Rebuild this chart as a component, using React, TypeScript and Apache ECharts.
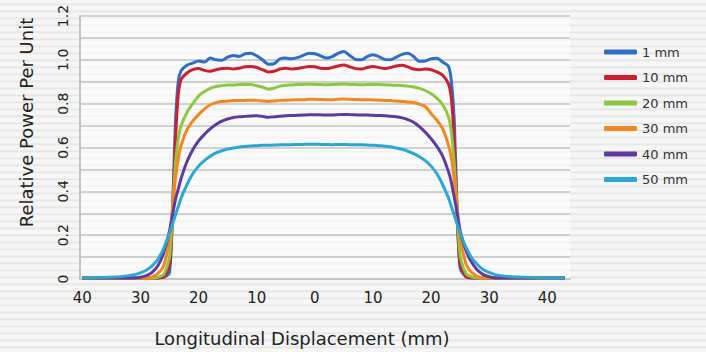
import React, { useEffect, useRef } from "react";
import * as echarts from "echarts";

const X_MM = [
  -40, -36, -33, -31, -30, -29, -28, -27, -26, -25,
  -24.5, -24, -23.5, -23, -22, -21, -20, -19, -18, -17,
  -16, -15, -14, -13, -12, -11, -10, -9, -8, -7,
  -6, -5, -4, -3, -2, -1, 0, 1, 2, 3,
  4, 5, 6, 7, 8, 9, 10, 11, 12, 13,
  14, 15, 16, 17, 18, 19, 20, 21, 22, 23,
  23.5, 24, 24.5, 25, 26, 27, 28, 29, 30, 31,
  33, 36, 40, 43,
];

const P1 = [
  0.005, 0.005, 0.005, 0.005, 0.005, 0.005, 0.005, 0.005, 0.008, 0.03,
  0.3, 0.7, 0.9, 0.95, 0.975, 0.985, 0.995, 0.99, 1.008, 1.0,
  0.998, 1.012, 1.02, 1.015, 1.028, 1.03, 1.018, 1.0, 0.98, 0.982,
  1.005, 1.008, 1.005, 1.01, 1.02, 1.03, 1.028, 1.018, 1.008, 1.015,
  1.03, 1.038, 1.02, 1.002, 1.0, 1.015, 1.023, 1.015, 1.002, 1.0,
  1.012, 1.025, 1.03, 1.015, 0.993, 0.995, 1.005, 1.007, 0.99, 0.97,
  0.9, 0.72, 0.3, 0.05, 0.01, 0.005, 0.005, 0.005, 0.005, 0.005,
  0.005, 0.005, 0.005, 0.005,
];

const P10 = [
  0.005, 0.005, 0.005, 0.005, 0.005, 0.005, 0.005, 0.005, 0.01, 0.06,
  0.28, 0.62, 0.84, 0.91, 0.94, 0.955, 0.96, 0.952, 0.948, 0.955,
  0.96, 0.962, 0.958, 0.962, 0.968, 0.97, 0.965, 0.955, 0.945, 0.948,
  0.958, 0.962, 0.958, 0.96, 0.965, 0.97, 0.968, 0.962, 0.96, 0.965,
  0.972, 0.976, 0.968, 0.96, 0.958, 0.965, 0.97, 0.965, 0.96, 0.965,
  0.972, 0.975, 0.968, 0.958, 0.955, 0.958, 0.955, 0.945, 0.93, 0.89,
  0.82, 0.62, 0.28, 0.07, 0.012, 0.005, 0.005, 0.005, 0.005, 0.005,
  0.005, 0.005, 0.005, 0.005,
];

const P20 = [
  0.005, 0.005, 0.005, 0.005, 0.005, 0.005, 0.005, 0.008, 0.02, 0.1,
  0.3, 0.52, 0.64, 0.7, 0.76, 0.8, 0.835, 0.855, 0.87, 0.878,
  0.882, 0.885, 0.885, 0.887, 0.888, 0.888, 0.882, 0.875, 0.866, 0.87,
  0.88, 0.884, 0.885, 0.887, 0.888, 0.889, 0.888, 0.887, 0.886, 0.887,
  0.889, 0.89, 0.888, 0.887, 0.886, 0.887, 0.888, 0.887, 0.886, 0.885,
  0.884, 0.883, 0.88, 0.876, 0.87, 0.86, 0.845, 0.825, 0.795, 0.74,
  0.67, 0.52, 0.3, 0.11, 0.025, 0.01, 0.005, 0.005, 0.005, 0.005,
  0.005, 0.005, 0.005, 0.005,
];

const P30 = [
  0.005, 0.005, 0.005, 0.005, 0.005, 0.005, 0.01, 0.025, 0.06, 0.18,
  0.32, 0.45, 0.55, 0.61, 0.68, 0.72, 0.75, 0.775, 0.795, 0.805,
  0.81, 0.812, 0.814, 0.815, 0.815, 0.816, 0.815, 0.812, 0.81, 0.812,
  0.815, 0.816, 0.817, 0.818, 0.818, 0.82, 0.82, 0.819, 0.818, 0.818,
  0.82, 0.821, 0.82, 0.819, 0.818, 0.818, 0.817, 0.816, 0.815, 0.814,
  0.812, 0.81, 0.808, 0.805, 0.798, 0.787, 0.755, 0.725, 0.685, 0.61,
  0.55, 0.45, 0.32, 0.19, 0.07, 0.03, 0.012, 0.005, 0.005, 0.005,
  0.005, 0.005, 0.005, 0.005,
];

const P40 = [
  0.005, 0.005, 0.005, 0.005, 0.008, 0.015, 0.03, 0.06, 0.12, 0.22,
  0.29, 0.36, 0.41, 0.46, 0.535, 0.59, 0.63, 0.66, 0.685, 0.705,
  0.72, 0.73, 0.737, 0.74, 0.742, 0.744, 0.745, 0.742, 0.738, 0.74,
  0.743, 0.745, 0.746, 0.747, 0.748, 0.75, 0.75, 0.749, 0.748, 0.748,
  0.75, 0.751, 0.75, 0.749, 0.748, 0.748, 0.747, 0.746, 0.745, 0.743,
  0.74, 0.735, 0.727, 0.715, 0.695, 0.67, 0.64, 0.605, 0.56, 0.49,
  0.44, 0.37, 0.3, 0.22, 0.13, 0.075, 0.04, 0.02, 0.01, 0.005,
  0.005, 0.005, 0.005, 0.005,
];

const P50 = [
  0.005, 0.008, 0.012, 0.02, 0.028, 0.04, 0.06, 0.09, 0.14, 0.21,
  0.25, 0.29, 0.33, 0.37, 0.43, 0.48, 0.515, 0.54, 0.56, 0.575,
  0.585, 0.593, 0.598, 0.602, 0.605, 0.607, 0.608, 0.61, 0.61, 0.611,
  0.612, 0.613, 0.613, 0.614, 0.614, 0.615, 0.615, 0.614, 0.614, 0.613,
  0.614, 0.614, 0.613, 0.612, 0.612, 0.611, 0.61, 0.608, 0.606, 0.603,
  0.598, 0.592, 0.583, 0.572, 0.558, 0.54, 0.515, 0.48, 0.43, 0.37,
  0.33, 0.29, 0.25, 0.21, 0.145, 0.095, 0.065, 0.042, 0.03, 0.02,
  0.012, 0.008, 0.005, 0.005,
];

const SERIES_NAMES = ["1 mm", "10 mm", "20 mm", "30 mm", "40 mm", "50 mm"];
const SERIES_VALUES = [P1, P10, P20, P30, P40, P50];
const COLORS = ["#2e6ec8", "#cc1f2f", "#8dc63f", "#f7861e", "#5f3a9e", "#2ba7d3"];
const X_TICKS = [-40, -30, -20, -10, 0, 10, 20, 30, 40];

const FONT = "DejaVu Sans";

export default function App() {
  const ref = useRef<HTMLDivElement>(null);

  useEffect(() => {
    if (!ref.current) return;
    const chart = echarts.init(ref.current, null, { renderer: "svg" });
    const option: any = {
      animation: false,
      backgroundColor: "transparent",
      grid: {
        left: 80,
        right: 136,
        top: 16,
        bottom: 72,
        show: true,
        backgroundColor: "rgba(255,255,255,0.55)",
        borderWidth: 0,
      },
      legend: {
        orient: "vertical",
        left: 599,
        top: 39,
        itemWidth: 33,
        itemHeight: 5,
        itemGap: 9.5,
        icon: "roundRect",
        textStyle: { fontFamily: FONT, fontSize: 13, color: "#333", lineHeight: 16 },
        data: SERIES_NAMES,
      },
      xAxis: {
        type: "value",
        min: -40.4,
        max: 43.9,
        axisLine: { show: true, onZero: false, lineStyle: { color: "#c4c4c4", width: 2 } },
        axisTick: { show: false },
        splitLine: { show: false },
        axisLabel: {
          customValues: X_TICKS,
          formatter: (v: number) => String(Math.abs(v)),
          fontFamily: FONT,
          fontSize: 15,
          color: "#222",
          margin: 11,
        },
        name: "Longitudinal Displacement (mm)",
        nameLocation: "middle",
        nameGap: 50,
        nameTextStyle: { fontFamily: FONT, fontSize: 18, color: "#222", padding: [0, 46, 0, 0] },
      },
      yAxis: {
        type: "value",
        min: 0,
        max: 1.2,
        interval: 0.1,
        axisLine: { show: true, onZero: false, lineStyle: { color: "#c4c4c4", width: 2 } },
        axisTick: { show: false },
        splitLine: { show: true, lineStyle: { color: "#c2c2c2", width: 1.5 } },
        axisLabel: {
          rotate: 90,
          margin: 10,
          fontFamily: FONT,
          fontSize: 14,
          color: "#222",
          formatter: (v: number) => {
            const k = Math.round(v * 10);
            if (k % 2) return "";
            return k === 0 ? "0" : (k / 10).toFixed(1);
          },
        },
        name: "Relative Power Per Unit",
        nameLocation: "middle",
        nameRotate: 90,
        nameGap: 45,
        nameTextStyle: { fontFamily: FONT, fontSize: 18, color: "#222", padding: [0, 0, 0, 50] },
      },
      series: SERIES_NAMES.map((name, i) => ({
        name,
        type: "line",
        showSymbol: false,
        symbol: "none",
        smooth: 0.25,
        color: COLORS[i],
        lineStyle: { width: 3, color: COLORS[i] },
        data: X_MM.map((x, j) => [x, SERIES_VALUES[i][j]]),
      })),
    };
    chart.setOption(option);
    return () => chart.dispose();
  }, []);

  return (
    <div
      ref={ref}
      style={{
        position: "fixed",
        left: 0,
        top: 0,
        width: 706,
        height: 352,
        background:
          "repeating-linear-gradient(180deg, #f6f6f6 0px, #f6f6f6 3px, #e2e2e2 4px, #ececec 5px, #fbfbfb 7px)",
      }}
    />
  );
}
